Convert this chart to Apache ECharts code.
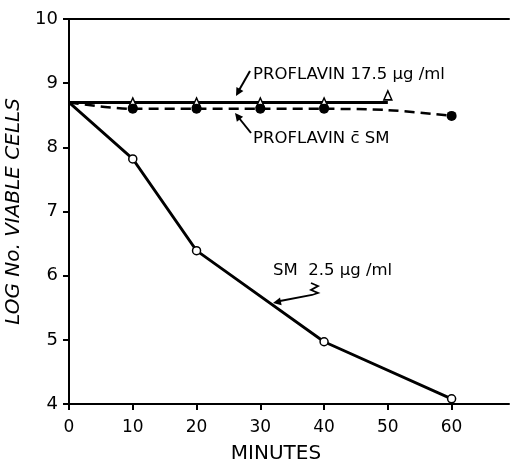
<!DOCTYPE html>
<html>
<head>
<meta charset="utf-8">
<script src="https://cdn.jsdelivr.net/npm/echarts@6/dist/echarts.min.js"></script>
<style>
  html, body { margin: 0; padding: 0; background: #fff; }
  #chart { width: 511px; height: 461px; }
</style>
</head>
<body>
<div id="chart"></div>
<script>
// minutes vs log viable cells
var minuteTicks = [0, 10, 20, 30, 40, 50, 60];

var proflavinLine = [[0, 8.7], [10, 8.7], [20, 8.7], [30, 8.7], [40, 8.7], [50, 8.7]];
var proflavinPoints = [[10, 8.7], [20, 8.7], [30, 8.7], [40, 8.7], [50, 8.81]];

var comboLine = [[0, 8.7], [10, 8.6], [20, 8.6], [30, 8.6], [40, 8.6], [50, 8.58], [60, 8.49]];
var comboPoints = [[10, 8.6], [20, 8.6], [30, 8.6], [40, 8.6], [60, 8.49]];

var smLine = [[0, 8.7], [10, 7.82], [20, 6.39], [40, 4.97], [60, 4.08]];
var smPoints = [[10, 7.82], [20, 6.39], [40, 4.97], [60, 4.08]];

var FONT = 'DejaVu Sans';

function arrowHead(x1, y1, x2, y2, len, half) {
  var dx = x2 - x1, dy = y2 - y1;
  var d = Math.sqrt(dx * dx + dy * dy);
  var ux = dx / d, uy = dy / d;
  var bx = x2 - ux * len, by = y2 - uy * len;
  return {
    type: 'polygon',
    shape: { points: [[x2, y2], [bx - uy * half, by + ux * half], [bx + uy * half, by - ux * half]] },
    style: { fill: '#000' }
  };
}

var chart = echarts.init(document.getElementById('chart'));
var option = {
  backgroundColor: '#fff',
  animation: false,
  grid: { left: 69, right: 2, top: 19, bottom: 57, containLabel: false, outerBoundsMode: 'none' },
  xAxis: [
    {
      type: 'value',
      min: 0,
      max: 69,
      interval: 10,
      name: 'MINUTES',
      nameLocation: 'middle',
      nameGap: 40,
      nameTextStyle: { fontFamily: FONT, fontSize: 20, color: '#000', padding: [0, 26, 0, 0] },
      axisLine: { lineStyle: { color: '#000', width: 2 } },
      axisTick: { length: 6, lineStyle: { color: '#000', width: 2 }, customValues: minuteTicks },
      axisLabel: { fontFamily: FONT, fontSize: 17, color: '#000', margin: 15, customValues: minuteTicks },
      splitLine: { show: false }
    },
    {
      type: 'value',
      position: 'top',
      min: 0,
      max: 69,
      axisLine: { show: true, onZero: false, lineStyle: { color: '#000', width: 2 } },
      axisTick: { show: false },
      axisLabel: { show: false },
      splitLine: { show: false }
    }
  ],
  yAxis: {
    type: 'value',
    min: 4,
    max: 10,
    interval: 1,
    name: 'LOG No. VIABLE CELLS',
    nameLocation: 'middle',
    nameGap: 36,
    nameRotate: 90,
    nameTextStyle: { fontFamily: FONT, fontSize: 20, fontStyle: 'italic', color: '#000' },
    axisLine: { lineStyle: { color: '#000', width: 2 } },
    axisTick: { length: 6, lineStyle: { color: '#000', width: 2 } },
    axisLabel: { fontFamily: FONT, fontSize: 18, color: '#000', margin: 11 },
    splitLine: { show: false }
  },
  series: [
    {
      name: 'SM 2.5',
      type: 'line',
      data: smLine,
      showSymbol: false,
      lineStyle: { color: '#000', width: 2.8 },
      z: 2
    },
    {
      name: 'SM points',
      type: 'scatter',
      data: smPoints,
      symbol: 'circle',
      symbolSize: 8,
      itemStyle: { color: '#fff', borderColor: '#000', borderWidth: 1.5, opacity: 1 },
      z: 5
    },
    {
      name: 'Proflavin',
      type: 'line',
      data: proflavinLine,
      showSymbol: false,
      lineStyle: { color: '#000', width: 3 },
      z: 2
    },
    {
      name: 'Proflavin points',
      type: 'scatter',
      data: proflavinPoints,
      symbol: 'triangle',
      symbolSize: [8, 9],
      itemStyle: { color: '#fff', borderColor: '#000', borderWidth: 1.5, opacity: 1 },
      z: 4
    },
    {
      name: 'Proflavin c SM',
      type: 'line',
      data: comboLine,
      showSymbol: false,
      smooth: 0.3,
      lineStyle: { color: '#000', width: 2.5, type: [10, 6] },
      z: 3
    },
    {
      name: 'Proflavin c SM points',
      type: 'scatter',
      data: comboPoints,
      symbol: 'circle',
      symbolSize: 10,
      itemStyle: { color: '#000', opacity: 1 },
      z: 6
    }
  ],
  graphic: [
    { type: 'text', left: 253, top: 66, style: { text: 'PROFLAVIN 17.5 \u00b5g /ml', font: '16.5px ' + FONT, fill: '#000' } },
    { type: 'line', shape: { x1: 250, y1: 71, x2: 238, y2: 92 }, style: { stroke: '#000', lineWidth: 2 } },
    arrowHead(250, 71, 236, 96, 8, 4),
    { type: 'text', left: 253, top: 130, style: { text: 'PROFLAVIN c\u0304 SM', font: '16.5px ' + FONT, fill: '#000' } },
    { type: 'line', shape: { x1: 251, y1: 133, x2: 239, y2: 118 }, style: { stroke: '#000', lineWidth: 2 } },
    arrowHead(251, 133, 235, 113, 8, 4),
    { type: 'text', left: 273, top: 262, style: { text: 'SM  2.5 \u00b5g /ml', font: '16.5px ' + FONT, fill: '#000' } },
    {
      type: 'polyline',
      shape: { points: [[311, 283], [318, 286], [311, 290], [318, 293], [312, 295], [280, 301]] },
      style: { stroke: '#000', lineWidth: 1.8, fill: null }
    },
    arrowHead(312, 295, 273, 303, 8, 4)
  ]
};
chart.setOption(option);
window.addEventListener('resize', function () {
  chart.resize();
});
</script>
</body>
</html>
